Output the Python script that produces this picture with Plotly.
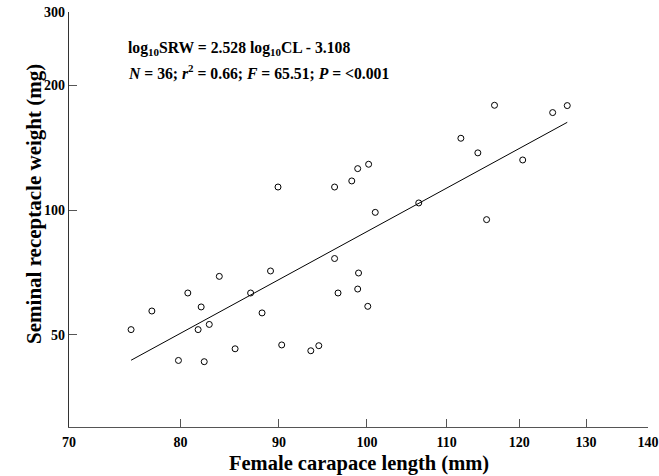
import numpy as np
import plotly.graph_objects as go

# Data (female carapace length mm, seminal receptacle weight mg)
carapace_length = [75.4, 77.3, 80.7, 83.8, 89.1, 82.0, 81.7, 82.8, 87.0, 88.2,
                    90.3, 85.4, 79.8, 82.3, 93.5, 94.4, 96.2, 96.6, 98.9, 99.0,
                    100.1, 89.9, 96.2, 98.2, 98.9, 100.2, 101.0, 106.4, 111.9, 114.2,
                    116.5, 115.4, 120.5, 124.9, 127.1]
receptacle_weight = [51.5, 57.1, 63.1, 69.2, 71.3, 58.4, 51.5, 53.0, 63.1, 56.5,
                     47.3, 46.3, 43.4, 43.1, 45.8, 47.1, 76.4, 63.1, 64.5, 70.5,
                     58.6, 113.6, 113.6, 117.5, 125.8, 128.9, 98.7, 104.0, 148.9, 137.3,
                     178.8, 94.8, 132.0, 171.7, 178.5]

# Regression: log10 SRW = slope * log10 CL + intercept
slope = 2.528
intercept = -3.108

x_ticks = [70, 80, 90, 100, 110, 120, 130, 140]
y_ticks = [50, 100, 200, 300]
x_range = [70, 140]
y_range = [30, 300]

line_x = np.array([min(carapace_length), max(carapace_length)])
line_y = 10 ** (slope * np.log10(line_x) + intercept)

FONT = "Liberation Serif"

fig = go.Figure()
fig.add_trace(go.Scatter(
    x=line_x, y=line_y, mode="lines",
    line=dict(color="black", width=1), showlegend=False, hoverinfo="skip"))
fig.add_trace(go.Scatter(
    x=carapace_length, y=receptacle_weight, mode="markers",
    marker=dict(symbol="circle-open", size=6, color="black", line=dict(width=1)),
    showlegend=False))

fig.update_xaxes(
    type="log", range=[np.log10(x_range[0]), np.log10(x_range[1])],
    tickvals=x_ticks, ticktext=[f"<b>{v}</b>" for v in x_ticks],
    ticks="inside", ticklen=8, tickcolor="#555", tickwidth=1,
    showline=True, linecolor="#555", linewidth=1.3,
    showgrid=False, zeroline=False, automargin=False, ticklabelstandoff=2,
    tickfont=dict(family=FONT, size=14, color="black", weight="bold"))
fig.update_yaxes(
    type="log", range=[np.log10(y_range[0]), np.log10(y_range[1])],
    tickvals=y_ticks, ticktext=[f"<b>{v}</b>" for v in y_ticks],
    ticks="inside", ticklen=8, tickcolor="#555", tickwidth=1,
    showline=True, linecolor="#333", linewidth=1.3,
    showgrid=False, zeroline=False, automargin=False,
    tickfont=dict(family=FONT, size=14, color="black", weight="bold"))

fig.add_annotation(
    xref="paper", yref="paper", x=0.500, y=-0.089, yanchor="middle",
    text="<b>Female carapace length (mm)</b>", showarrow=False,
    font=dict(family=FONT, size=20.5, color="black"))
fig.add_annotation(
    xref="paper", yref="paper", x=-0.085, y=0.537, textangle=-90,
    text="<b>Seminal receptacle weight (mg)</b>", showarrow=False,
    font=dict(family=FONT, size=21, color="black"))

fig.add_annotation(
    xref="paper", yref="paper", x=0.099, y=0.913, xanchor="left", yanchor="middle",
    text="<b>log<sub>10</sub>SRW = 2.528 log<sub>10</sub>CL - 3.108</b>",
    showarrow=False, font=dict(family=FONT, size=15.7, color="black"))
fig.add_annotation(
    xref="paper", yref="paper", x=0.099, y=0.855, xanchor="left", yanchor="middle",
    text="<b><i>N</i> = 36; <i>r</i><sup>2</sup> = 0.66; <i>F</i> = 65.51; <i>P</i> = &lt;0.001</b>",
    showarrow=False, font=dict(family=FONT, size=15.7, color="black"))

fig.update_layout(
    width=659, height=476,
    margin=dict(l=69, r=11, t=12, b=49, autoexpand=False),
    plot_bgcolor="white", paper_bgcolor="white",
)

fig.write_html("out.html")
